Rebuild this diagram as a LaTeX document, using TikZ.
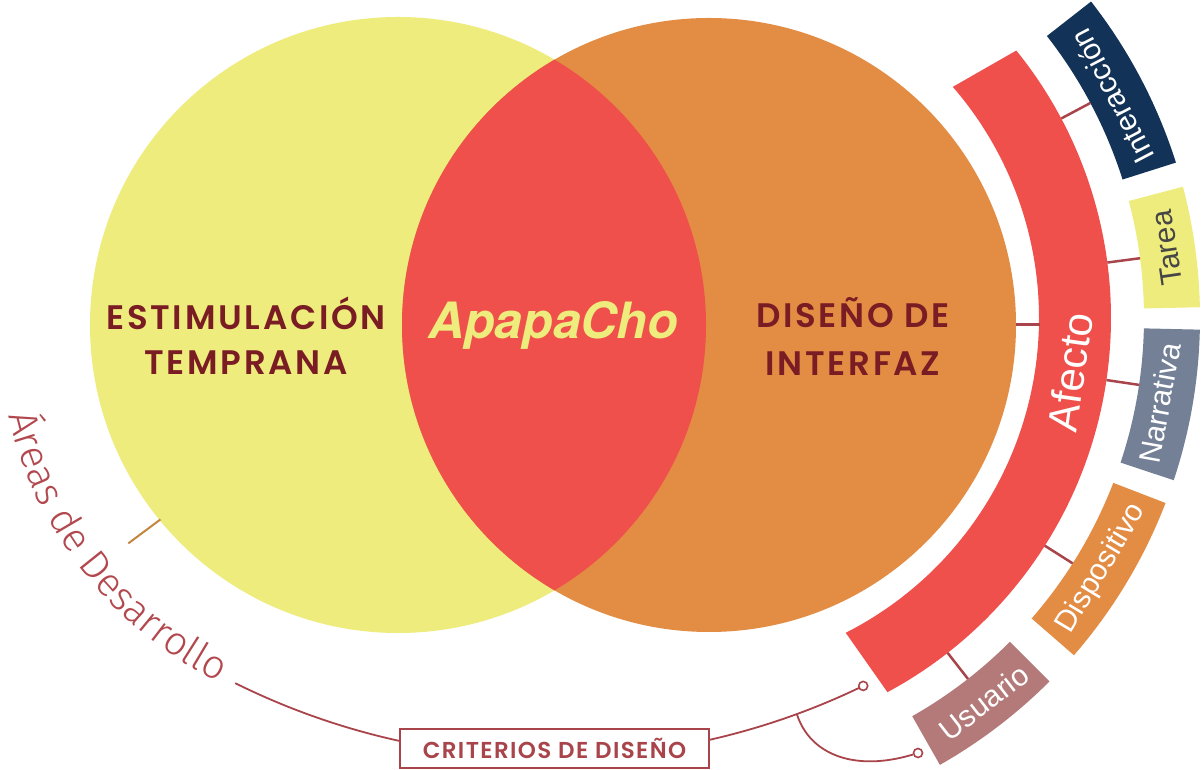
\documentclass[tikz,border=0pt]{standalone}
\usepackage{fontspec}
\usetikzlibrary{decorations.text}
\newfontfamily\titlefont{Poppins SemiBold}[LetterSpace=8]
\newfontfamily\critfont{Poppins SemiBold}[LetterSpace=6]
\newfontfamily\lightfont{Fira Sans Light}
\newfontfamily\labelfont{Liberation Sans}
\newfontfamily\brushfont{TeX Gyre Heros}
\definecolor{cyel}{RGB}{238,236,124}
\definecolor{cora}{RGB}{227,140,67}
\definecolor{cred}{RGB}{239,80,76}
\definecolor{cnavy}{RGB}{18,50,88}
\definecolor{cslate}{RGB}{115,128,150}
\definecolor{crose}{RGB}{180,122,122}
\definecolor{ctitle}{RGB}{122,28,36}
\definecolor{ctick}{RGB}{168,68,74}
\definecolor{ctan}{RGB}{196,134,63}
\definecolor{carea}{RGB}{178,72,78}
\definecolor{cgraytxt}{RGB}{70,70,70}
\newcommand\lsector[3]{\fill[#1] (#2:458) arc[start angle=#2, end angle=#3, radius=458] -- (#3:514) arc[start angle=#3, end angle=#2, radius=514] -- cycle;}
\begin{document}
\begin{tikzpicture}[x=1pt,y=1pt,
  tick/.style={draw=ctick, line width=2.5pt},
  conn/.style={draw=ctick, line width=1.8pt},
  enddot/.style={circle, draw=ctick, fill=white, line width=1.6pt, minimum size=9pt, inner sep=0pt},
  title/.style={text=ctitle, font=\titlefont\fontsize{34}{34}\selectfont, anchor=base, inner sep=0pt},
  lbl/.style={text=white, font=\labelfont\fontsize{30}{30}\selectfont, anchor=base, inner sep=0pt},
  disc/.style={circle, inner sep=0pt, outer sep=0pt}]
\useasboundingbox (0,0) rectangle (1201,770);
\fill[white] (0,0) rectangle (1201,770);

% circles
\node[disc, fill=cyel, minimum size=616pt] (yc) at (398,445) {};
\node[disc, fill=cora, minimum size=614pt] (oc) at (709,445) {};
\begin{scope}
  \clip (398,445) circle[radius=308];
  \fill[cred] (709,445) circle[radius=307];
\end{scope}

% ring and labels
\begin{scope}[shift={(686,452)}]
  \fill[cred] (40.9:353) arc[start angle=40.9, end angle=-63.1, radius=353]
     -- (-61.7:425) arc[start angle=-61.7, end angle=39.0, radius=425] -- cycle;
  \lsector{cnavy}{17.6}{38}
  \lsector{cyel}{1.2}{14.8}
  \lsector{cslate}{-18.4}{-1.3}
  \lsector{cora}{-41}{-21.1}
  \lsector{crose}{-60.4}{-45}
  \foreach \a/\n in {28/ti,7.5/tt,-8.4/tn,-32.4/td,-52/tu}{
    \coordinate (\n1) at (\a:425);
    \coordinate (\n2) at (\a:458);
    \draw[tick] (\n1) -- (\n2);
  }
  \node[lbl, rotate=117.5] (lint) at (27.5:491) {Interacción};
  \node[lbl, rotate=98.3, text=cgraytxt] (ltar) at (8.3:496) {Tarea};
  \node[lbl, rotate=79.8] (lnar) at (-10.2:492) {Narrativa};
  \node[lbl, rotate=58.9] (ldis) at (-31.1:493) {Dispositivo};
  \node[lbl, rotate=37.8] (lusu) at (-52.2:497) {Usuario};
  \node[anchor=base, inner sep=0pt, rotate=82, text=white, font=\labelfont\fontsize{42}{42}\selectfont] (afe) at (-8:403) {Afecto};
\end{scope}

% tick from interface circle to ring
\coordinate (itA) at (1016,445.5);
\coordinate (itB) at (1040,445.5);
\draw[draw=ctick, line width=3pt] (itA) -- (itB);

% main texts
\node[title] (t1) at (246,440) {ESTIMULACIÓN};
\node[title] (t2) at (246,395) {TEMPRANA};
\node[title] (t3) at (853,442) {DISEÑO DE};
\node[title] (t4) at (853,394) {INTERFAZ};
\node[text=cyel, font=\brushfont\bfseries\itshape\fontsize{50}{50}\selectfont, inner sep=0pt] (apa) at (553,445) {ApapaCho};

% areas de desarrollo
\begin{scope}[shift={(398,445)}]
  \coordinate (yt1) at (219.3:307);
  \coordinate (yt2) at (219:347);
  \draw[draw=ctan, line width=2pt] (yt1) -- (yt2);
  \path[decorate, decoration={text along path, text align=left,
     text={|\lightfont\fontsize{40}{40}\selectfont\color{carea}|Áreas de Desarrollo}}]
     (193:400) arc[start angle=193, end angle=268, radius=400];
\end{scope}

% bottom connector
\begin{scope}[shift={(552,725)}]
  \coordinate (arcA) at (243.6:712.5);
  \coordinate (arcE) at (295.9:712.5);
  \coordinate (arcB) at (290.1:712.5);
\end{scope}
\draw[conn] (arcA) arc[start angle=243.6, end angle=295.9, radius=712.5];
\node[enddot] (dot1) at (arcE) {};
\node[enddot] (dot2) at (918,17) {};
\draw[conn] (arcB) .. controls (810,15) and (855,-2) .. (dot2);
\node[draw=ctick, fill=white, line width=1.5pt, minimum width=309pt, minimum height=39pt,
      text=ctick, font=\critfont\fontsize{23}{23}\selectfont] (crit) at (554.5,21.5) {CRITERIOS DE DISEÑO};
\end{tikzpicture}
\end{document}
